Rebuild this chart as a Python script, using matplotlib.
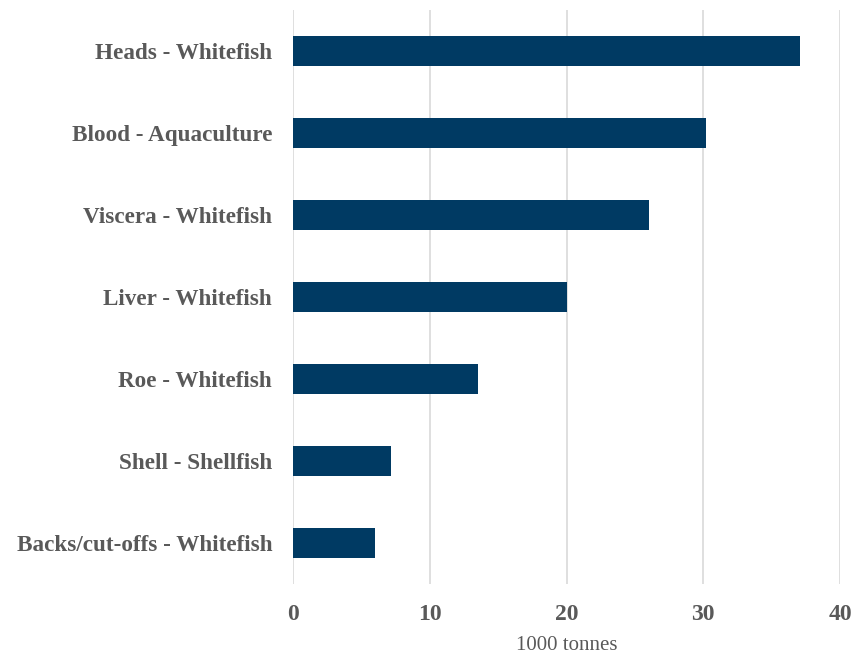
import matplotlib
matplotlib.use("Agg")
import matplotlib.pyplot as plt

# ---------- Data ----------
categories = [
    "Heads - Whitefish",
    "Blood - Aquaculture",
    "Viscera - Whitefish",
    "Liver - Whitefish",
    "Roe - Whitefish",
    "Shell - Shellfish",
    "Backs/cut-offs - Whitefish",
]
values = [37.1, 30.2, 26.0, 20.0, 13.5, 7.2, 6.0]
xticks = [0, 10, 20, 30, 40]
# --------------------------

BAR_COLOR = "#003A63"
TEXT_COLOR = "#595959"
GRID_COLOR = "#D9D9D9"

plt.rcParams["font.family"] = ["Liberation Serif", "DejaVu Serif"]

fig = plt.figure(figsize=(8.58, 6.56), dpi=100)
ax = fig.add_axes([293 / 858, 1 - 584 / 656, (840 - 293) / 858, (584 - 10) / 656])

ypos = list(range(len(categories)))
ax.barh(ypos, values, height=0.355, color=BAR_COLOR, zorder=3)

ax.set_ylim(len(categories) - 0.5, -0.5)
ax.set_xlim(0, 40)
ax.set_xticks(xticks)
ax.set_xticklabels([str(t) for t in xticks], fontsize=17, fontweight="bold", color=TEXT_COLOR)
ax.set_yticks(ypos)
ax.set_yticklabels(categories, fontsize=16.7, fontweight="bold", color=TEXT_COLOR)
ax.tick_params(axis="both", length=0)
ax.tick_params(axis="x", pad=14.5)
ax.tick_params(axis="y", pad=15)

ax.grid(axis="x", color=GRID_COLOR, linewidth=1.2, zorder=0)
for s in ax.spines.values():
    s.set_visible(False)

ax.set_xlabel("1000 tonnes", fontsize=15, color=TEXT_COLOR, labelpad=8)

fig.savefig("out.png", dpi=100)
